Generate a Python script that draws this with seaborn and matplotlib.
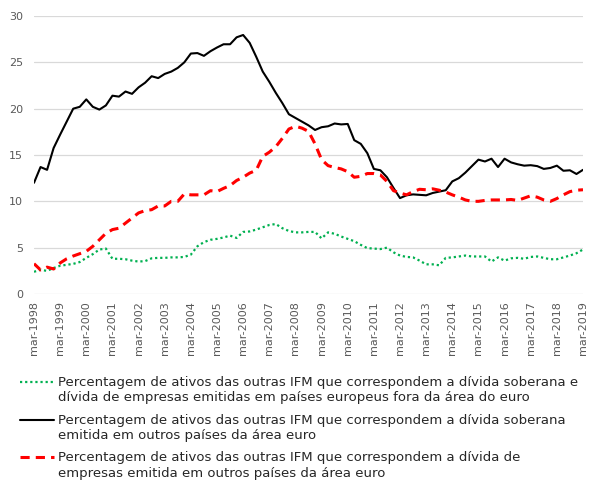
import matplotlib
matplotlib.use('Agg')
import matplotlib.pyplot as plt
from matplotlib.lines import Line2D
import numpy as np
import pandas as pd
import seaborn as sns

# Quarterly data, mar-1998 .. mar-2019 (85 points)
years = list(range(1998, 2020))
tick_labels = ['mar-%d' % y for y in years]

soberana_fora = [2.4, 2.6, 2.5, 2.8, 3.05, 3.15, 3.25, 3.45, 3.9, 4.3, 4.8, 4.9,
                 3.8, 3.8, 3.75, 3.6, 3.5, 3.55, 3.85, 3.9, 3.9, 3.95, 3.95, 4.0,
                 4.25, 5.15, 5.6, 5.85, 5.95, 6.1, 6.3, 6.05, 6.7, 6.75, 6.95, 7.2,
                 7.45, 7.55, 7.1, 6.8, 6.65, 6.65, 6.7, 6.7, 6.0, 6.65, 6.5, 6.2,
                 5.95, 5.7, 5.3, 4.95, 4.9, 4.85, 5.0, 4.5, 4.15, 4.0, 3.95, 3.6,
                 3.2, 3.2, 3.1, 3.9, 3.95, 4.05, 4.15, 4.05, 4.05, 4.05, 3.5, 3.95,
                 3.6, 3.85, 3.9, 3.8, 4.0, 4.05, 3.9, 3.75, 3.75, 3.95, 4.15, 4.4, 4.8]

soberana_euro = [12.0, 13.7, 13.4, 15.75, 17.2, 18.6, 20.0, 20.2, 21.0, 20.2, 19.9, 20.35,
                 21.4, 21.3, 21.85, 21.6, 22.3, 22.8, 23.5, 23.3, 23.75, 24.0, 24.4, 25.0,
                 25.95, 26.0, 25.7, 26.2, 26.6, 26.95, 26.95, 27.7, 27.95, 27.1, 25.6, 24.0,
                 22.9, 21.7, 20.6, 19.4, 19.0, 18.6, 18.2, 17.7, 18.0, 18.1, 18.4, 18.3,
                 18.35, 16.6, 16.2, 15.2, 13.5, 13.35, 12.6, 11.45, 10.35, 10.65, 10.75, 10.7,
                 10.65, 10.9, 11.05, 11.2, 12.15, 12.5, 13.1, 13.8, 14.5, 14.3, 14.6, 13.7,
                 14.6, 14.2, 14.0, 13.85, 13.9, 13.8, 13.5, 13.6, 13.85, 13.3, 13.35, 12.95, 13.4]

empresas_euro = [3.27, 2.6, 2.9, 2.7, 3.35, 3.8, 4.1, 4.35, 4.6, 5.15, 5.85, 6.55,
                 6.95, 7.1, 7.65, 8.2, 8.75, 9.0, 9.1, 9.5, 9.5, 10.0, 10.0, 10.8,
                 10.7, 10.7, 10.7, 11.15, 11.05, 11.4, 11.7, 12.25, 12.6, 13.05, 13.35, 14.85,
                 15.3, 15.9, 16.8, 17.8, 18.1, 17.9, 17.55, 16.2, 14.5, 13.85, 13.65, 13.5,
                 13.2, 12.6, 12.7, 13.0, 13.0, 12.85, 12.15, 11.15, 10.9, 10.7, 11.05, 11.3,
                 11.25, 11.35, 11.2, 11.0, 10.7, 10.45, 10.15, 10.0, 10.0, 10.1, 10.15, 10.15,
                 10.15, 10.2, 10.1, 10.35, 10.6, 10.45, 10.15, 10.0, 10.3, 10.7, 11.05, 11.2, 11.25]

labels = [
    'Percentagem de ativos das outras IFM que correspondem a dívida soberana e\n'
    'dívida de empresas emitidas em países europeus fora da área do euro',
    'Percentagem de ativos das outras IFM que correspondem a dívida soberana\n'
    'emitida em outros países da área euro',
    'Percentagem de ativos das outras IFM que correspondem a dívida de\n'
    'empresas emitida em outros países da área euro',
]

df = pd.DataFrame({'q': np.arange(len(soberana_euro)),
                   'fora': soberana_fora,
                   'sob': soberana_euro,
                   'emp': empresas_euro})

sns.set_style('white')
plt.rcParams['font.family'] = ['DejaVu Sans']

fig = plt.figure(figsize=(5.89, 4.83), dpi=100)
ax = fig.add_axes([34 / 589, 1 - 294 / 483, 549 / 589, 278 / 483])

green, red = '#00B050', '#FF0000'
sns.lineplot(data=df, x='q', y='fora', ax=ax, color=green, linewidth=1.6,
             linestyle=(0, (1, 1.3)))
sns.lineplot(data=df, x='q', y='sob', ax=ax, color='black', linewidth=1.5)
sns.lineplot(data=df, x='q', y='emp', ax=ax, color=red, linewidth=2.2,
             linestyle=(0, (3, 2)))

ax.set_xlim(0, 84)
ax.set_ylim(0, 30)
ax.set_yticks(range(0, 31, 5))
ax.set_xticks(range(0, 85, 4))
ax.set_xticklabels(tick_labels, rotation=90)
ax.tick_params(axis='both', length=0, labelsize=8, labelcolor='#595959')
ax.tick_params(axis='y', pad=8)
ax.tick_params(axis='x', pad=5)
ax.set_xlabel('')
ax.set_ylabel('')
ax.grid(axis='y', color='#D9D9D9', linewidth=0.9)
ax.set_axisbelow(True)
for s in ax.spines.values():
    s.set_visible(False)

# legend below the chart
styles = [dict(color=green, linewidth=1.6, linestyle=(0, (1, 1.3))),
          dict(color='black', linewidth=1.5),
          dict(color=red, linewidth=2.2, linestyle=(0, (3, 2)))]
first_line_y = [384, 422, 459]
for lab, st, yy in zip(labels, styles, first_line_y):
    yf = 1 - (yy - 2) / 483
    fig.add_artist(Line2D([20 / 589, 54 / 589], [yf, yf], transform=fig.transFigure, **st))
    fig.text(58 / 589, 1 - (yy - 8) / 483, lab, ha='left', va='top',
             fontsize=9.5, color='#262626', linespacing=1.25)

fig.savefig('out.png', dpi=100)
